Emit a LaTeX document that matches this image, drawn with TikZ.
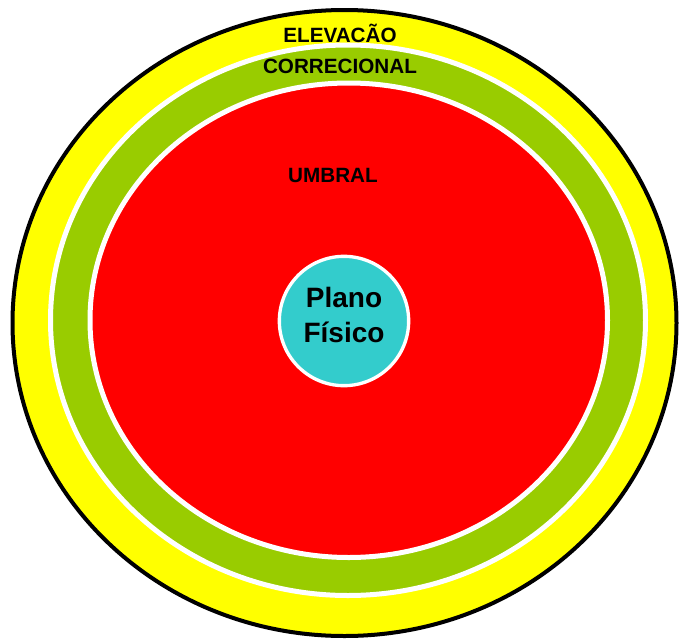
\documentclass[tikz,border=0pt]{standalone}
\usepackage{fontspec}
\setmainfont{Liberation Sans}
\usepackage{tikz}
\definecolor{amarelo}{HTML}{FFFF00}
\definecolor{verde}{HTML}{99CC00}
\definecolor{vermelho}{HTML}{FF0000}
\definecolor{ciano}{HTML}{33CCCC}
\begin{document}
\begin{tikzpicture}[x=0.75pt,y=-0.75pt,
    sep/.style={draw=white,line width=3.75pt},
    rotulo/.style={font=\fontsize{15.5}{17}\selectfont\bfseries,inner sep=0pt}]
    \useasboundingbox (0,0) rectangle (679,643);
    % aneis
    \filldraw[fill=amarelo,draw=black,line width=3pt] (344.5,323) ellipse [x radius=332,y radius=313];
    \filldraw[fill=verde,sep] (348,320.25) ellipse [x radius=297.5,y radius=275.25];
    \filldraw[fill=vermelho,sep] (348.75,320.25) ellipse [x radius=258.75,y radius=237.25];
    \node[circle,fill=ciano,draw=white,line width=2.5pt,minimum size=97pt,inner sep=0pt] (P) at (344,321) {};
    \node[align=center,inner sep=0pt,font=\fontsize{21}{26}\selectfont\bfseries] (T) at (344,315) {Plano\\Físico};
    \node[rotulo] (E) at (340,33) {ELEVACÃO};
    \node[rotulo] (C) at (340,66) {CORRECIONAL};
    \node[rotulo] (U) at (333,175) {UMBRAL};
\end{tikzpicture}
\end{document}
